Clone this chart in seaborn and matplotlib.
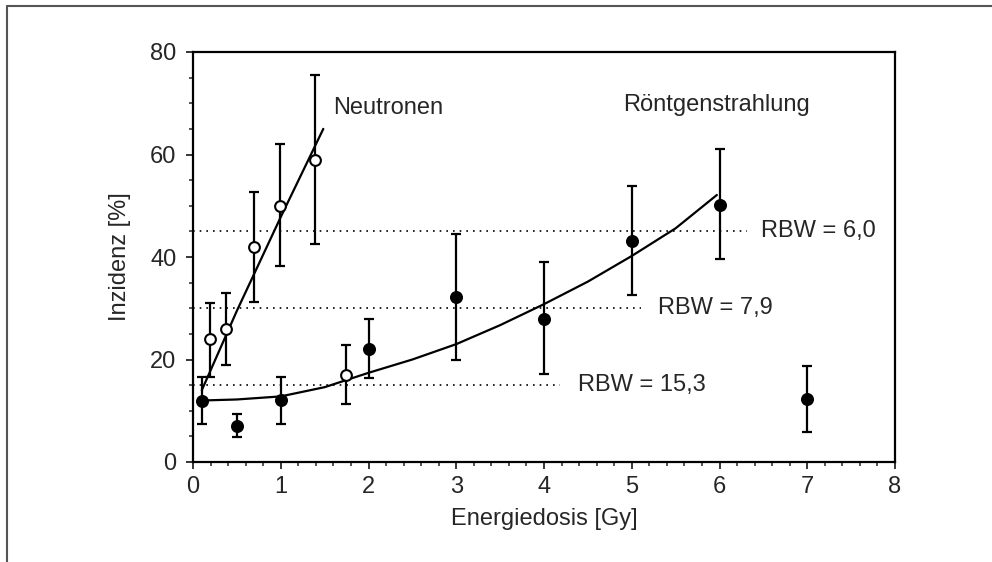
import matplotlib
matplotlib.use("Agg")
import matplotlib.pyplot as plt
from matplotlib.ticker import MultipleLocator
from matplotlib.lines import Line2D
import seaborn as sns
import pandas as pd

# ---- data ----
neut_x = [0.19, 0.38, 0.69, 0.99, 1.39, 1.74]
neut_y = [24, 26, 42, 50, 59, 17]
neut_lo = [16.6, 19, 31.3, 38.3, 42.5, 11.4]
neut_hi = [31, 33, 52.7, 62, 75.5, 22.8]

xray_x = [0.1, 0.5, 1.0, 2.0, 3.0, 4.0, 5.0, 6.0, 7.0]
xray_y = [12, 7.1, 12.1, 22, 32.1, 28, 43.2, 50.1, 12.3]
xray_lo = [7.5, 4.8, 7.5, 16.3, 19.9, 17.2, 32.6, 39.6, 5.9]
xray_hi = [16.6, 9.3, 16.6, 27.9, 44.5, 39.1, 53.9, 61, 18.7]

neut_fit_x = [0.1, 0.5, 1.0, 1.485]
neut_fit_y = [14, 29.5, 47.8, 65]

xray_fit_x = [0.1, 0.5, 1.0, 1.5, 2.0, 2.5, 3.0, 3.5, 4.0, 4.5, 5.0, 5.5, 5.97]
xray_fit_y = [12.0, 12.2, 12.8, 14.6, 17.4, 20.0, 23.0, 26.7, 30.8, 35.2, 40.2, 45.6, 52.1]

rbw_levels = [45, 30, 15]
rbw_ends = [6.31, 5.11, 4.18]
rbw_labels = ["RBW = 6,0", "RBW = 7,9", "RBW = 15,3"]
rbw_label_x = [6.47, 5.30, 4.39]

sns.set_style("ticks")
plt.rcParams["font.family"] = ["Liberation Sans", "DejaVu Sans"]

fig = plt.figure(figsize=(9.92, 5.62), dpi=100)
ax = fig.add_axes([193/992, 1-462/562, (895-193)/992, (462-52)/562])

# frame lines of the figure (top and left)
fig.add_artist(Line2D([7/992, 1], [1-6/562, 1-6/562], transform=fig.transFigure, color="#555555", lw=1.5))
fig.add_artist(Line2D([7/992, 7/992], [0, 1-6/562], transform=fig.transFigure, color="#555555", lw=1.5))

# RBW dotted lines
for lvl, end, lab, lx in zip(rbw_levels, rbw_ends, rbw_labels, rbw_label_x):
    ax.plot([0, end], [lvl, lvl], color="black", lw=1.2, ls=(0, (1, 3)))
    ax.text(lx, lvl, lab, fontsize=17, va="center", ha="left")

# fit curves
fit_df = pd.DataFrame({"x": neut_fit_x, "y": neut_fit_y})
sns.lineplot(data=fit_df, x="x", y="y", ax=ax, color="black", lw=1.6, sort=False, estimator=None)
fit_df2 = pd.DataFrame({"x": xray_fit_x, "y": xray_fit_y})
sns.lineplot(data=fit_df2, x="x", y="y", ax=ax, color="black", lw=1.6, sort=False, estimator=None)

# error bars
def errs(y, lo, hi):
    return [[a - b for a, b in zip(y, lo)], [c - a for a, c in zip(y, hi)]]

ax.errorbar(neut_x, neut_y, yerr=errs(neut_y, neut_lo, neut_hi), fmt="none",
            ecolor="black", elinewidth=1.6, capsize=3.5, capthick=1.6, zorder=3)
ax.errorbar(xray_x, xray_y, yerr=errs(xray_y, xray_lo, xray_hi), fmt="none",
            ecolor="black", elinewidth=1.6, capsize=3.5, capthick=1.6, zorder=3)

# points
sns.scatterplot(x=neut_x, y=neut_y, ax=ax, marker="o", s=60, facecolor="white",
                edgecolor="black", linewidth=1.5, zorder=4)
sns.scatterplot(x=xray_x, y=xray_y, ax=ax, marker="o", s=70, color="black",
                edgecolor="black", linewidth=1, zorder=4)

ax.text(1.6, 69, "Neutronen", fontsize=17, va="center", ha="left")
ax.text(4.9, 69.7, "Röntgenstrahlung", fontsize=17, va="center", ha="left")

ax.set_xlim(0, 8)
ax.set_ylim(0, 80)
ax.xaxis.set_major_locator(MultipleLocator(1))
ax.xaxis.set_minor_locator(MultipleLocator(0.2))
ax.yaxis.set_major_locator(MultipleLocator(20))
ax.yaxis.set_minor_locator(MultipleLocator(5))
ax.tick_params(which="major", direction="out", length=5, width=1.3, labelsize=17)
ax.tick_params(axis="y", which="major", pad=7)
ax.tick_params(axis="x", which="major", pad=5)
ax.tick_params(which="minor", direction="out", length=3, width=1.1)
for s in ax.spines.values():
    s.set_linewidth(1.6)
    s.set_color("black")
ax.set_xlabel("Energiedosis [Gy]", fontsize=17, labelpad=7)
ax.set_ylabel("Inzidenz [%]", fontsize=17, labelpad=14)

fig.savefig("out.png", dpi=100)
